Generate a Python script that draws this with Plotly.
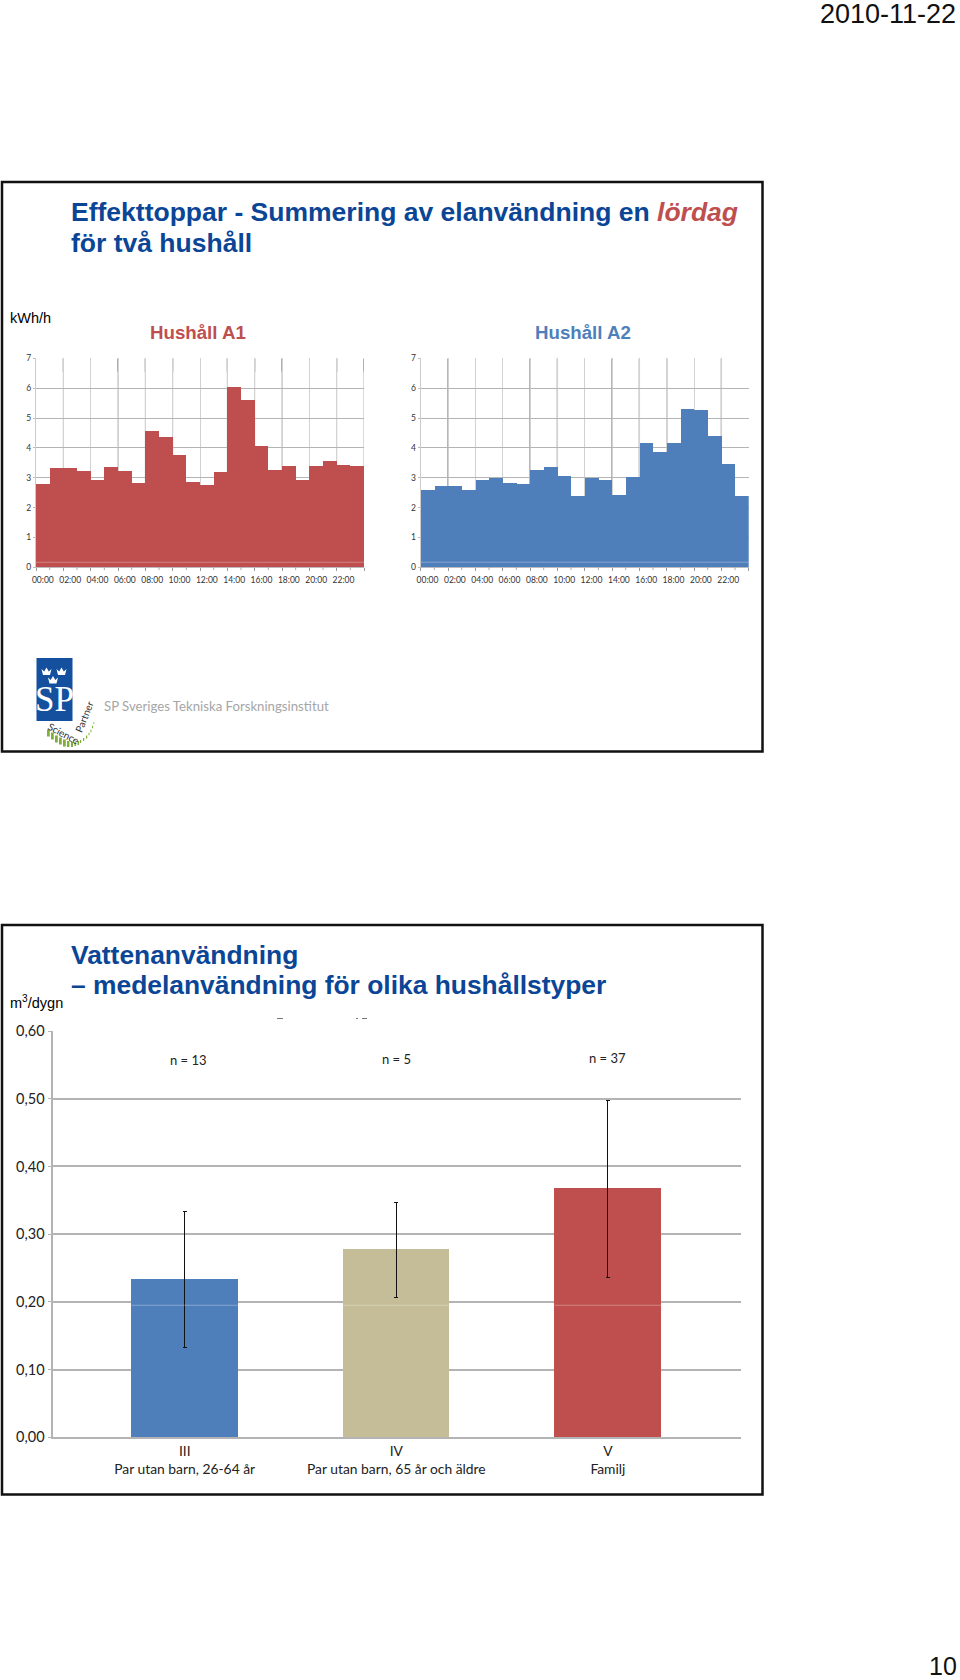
import plotly.graph_objects as go

W, H = 960, 1680
hours = [f"{h:02d}:00" for h in range(24)]
a1_values = [2.77, 3.33, 3.33, 3.22, 2.91, 3.36, 3.20, 2.83, 4.55, 4.36, 3.75, 2.85,
             2.73, 3.19, 6.04, 5.60, 4.05, 3.25, 3.39, 2.91, 3.39, 3.54, 3.42, 3.37]
a2_values = [2.57, 2.72, 2.71, 2.58, 2.92, 2.97, 2.81, 2.78, 3.25, 3.36, 3.06, 2.39,
             2.97, 2.92, 2.41, 3.02, 4.16, 3.84, 4.16, 5.30, 5.26, 4.40, 3.45, 2.39]
y_ticks_a = [0, 1, 2, 3, 4, 5, 6, 7]
dark_a1 = [1, 3, 4, 5, 7, 8, 9, 11, 12]
dark_a2 = [1, 4, 5, 7, 8, 9, 11]

water_cats = ["III<br>Par utan barn, 26-64 år",
              "IV<br>Par utan barn, 65 år och äldre",
              "V<br>Familj"]
water_values = [0.234, 0.278, 0.368]
water_err_up = [0.100, 0.069, 0.129]
water_err_down = [0.102, 0.071, 0.132]
water_n = ["n = 13", "n = 5", "n = 37"]
water_ticks = [0, 0.1, 0.2, 0.3, 0.4, 0.5, 0.6]
water_ticktext = ["0,00", "0,10", "0,20", "0,30", "0,40", "0,50", "0,60"]

RED, BLUE, KHAKI = "#BE4F4E", "#4F7FBB", "#C4BD97"
NAVY = "#0B4596"
GRID = "#B4B4B4"


def px(x):
    return x / W


def py(y):
    return 1 - y / H


fig = go.Figure()
fig.add_bar(x=hours, y=a1_values, marker=dict(color=RED, line_width=0), xaxis="x", yaxis="y", showlegend=False)
fig.add_bar(x=hours, y=a2_values, marker=dict(color=BLUE, line_width=0), xaxis="x2", yaxis="y2", showlegend=False)
fig.add_bar(x=water_cats, y=water_values, width=0.504,
            marker=dict(color=[BLUE, KHAKI, RED], line_width=0),
            error_y=dict(type="data", symmetric=False, array=water_err_up, arrayminus=water_err_down,
                         color="#111111", thickness=1, width=2),
            xaxis="x3", yaxis="y3", showlegend=False)


def hour_axis(domain, anchor):
    return dict(domain=domain, anchor=anchor, type="category", categoryorder="array", categoryarray=hours,
                range=[-0.5, 23.5], tickson="boundaries", dtick=2, showgrid=True, gridcolor="#D2D2D2",
                gridwidth=1, ticks="outside", ticklen=3, tickcolor="#999999", showline=True, linecolor="#BBBBBB",
                ticklabelstandoff=4,
                tickfont=dict(family="Lato", size=8.5, color="#333333"), tickangle=0)


def kwh_axis(domain, anchor):
    return dict(domain=domain, anchor=anchor, range=[0, 7], tickvals=y_ticks_a, showgrid=True,
                gridcolor=GRID, gridwidth=1, zeroline=False, ticks="outside", ticklen=2, tickcolor="#BBBBBB",
                showline=True, linecolor="#CCCCCC", tickfont=dict(family="Lato", size=8.5, color="#333333"))


shapes, ann = [], []
# darker segments of the vertical gridlines
for k in dark_a1:
    shapes.append(dict(type="line", xref="x", yref="y", x0=2 * k - 0.5, x1=2 * k - 0.5, y0=6.55, y1=7,
                       line=dict(color="#858585", width=1.3), layer="below"))
    shapes.append(dict(type="line", xref="x", yref="y", x0=2 * k - 0.5, x1=2 * k - 0.5, y0=0, y1=6.55,
                       line=dict(color="#B5B5B5", width=1), layer="below"))
for k in dark_a2:
    shapes.append(dict(type="line", xref="x2", yref="y2", x0=2 * k - 0.5, x1=2 * k - 0.5, y0=0, y1=7,
                       line=dict(color="#8A8A8A", width=1.3), layer="below"))
# hourly minor ticks and a faint light streak across the bars
for xr, yr in (("x", "y"), ("x2", "y2")):
    for k in range(1, 24, 2):
        shapes.append(dict(type="line", xref=xr, yref="paper", x0=k - 0.5, x1=k - 0.5, y0=py(567.3), y1=py(570),
                           line=dict(color="#AAAAAA", width=1)))
    shapes.append(dict(type="line", xref=xr, yref=yr, x0=-0.5, x1=23.5, y0=0.17, y1=0.17,
                       line=dict(color="rgba(255,255,255,0.3)", width=1), layer="above"))
for i in range(3):
    shapes.append(dict(type="line", xref="x3", yref="y3", x0=i - 0.252, x1=i + 0.252, y0=0.195, y1=0.195,
                       line=dict(color="rgba(255,255,255,0.3)", width=1), layer="above"))


def rect(x0, y0, x1, y1, **kw):
    shapes.append(dict(type="rect", xref="paper", yref="paper", x0=px(x0), x1=px(x1), y0=py(y1), y1=py(y0), **kw))


def text(x, y, s, size, color="#000000", family="Liberation Sans", anchor="left", angle=0):
    ann.append(dict(xref="paper", yref="paper", x=px(x), y=py(y), text=s, showarrow=False, xanchor=anchor,
                    yanchor="middle", textangle=angle, align="left", borderpad=0,
                    font=dict(family=family, size=size, color=color)))


def crown(a, b):
    pts = [(a, b), (a + 1.5, b + 6), (a + 8.5, b + 6), (a + 10, b), (a + 7.3, b + 2.5), (a + 5, b - 1.5), (a + 2.7, b + 2.5)]
    path = "M " + " L ".join(f"{px(u):.5f} {py(v):.5f}" for u, v in pts) + " Z"
    shapes.append(dict(type="path", xref="paper", yref="paper", layer="above", line_width=0,
                       fillcolor="#FFFFFF", path=path))


# frames
for y0, y1 in ((182, 751.5), (925, 1494.5)):
    rect(2, y0, 762.5, y1, line=dict(color="#111111", width=2.5), fillcolor="rgba(0,0,0,0)", layer="below")

text(957, 14, "2010-11-22", 27, anchor="right", color="#111111")
text(70, 212, f'<b>Effekttoppar - Summering av elanvändning en <span style="color:{RED}"><i>lördag</i></span></b>', 26.5, NAVY)
text(70, 243, "<b>för två hushåll</b>", 26.5, NAVY)
text(9, 318, "kWh/h", 14.5)
text(198, 333, "<b>Hushåll A1</b>", 18.7, RED, anchor="center")
text(583, 333, "<b>Hushåll A2</b>", 18.7, BLUE, anchor="center")
text(70, 955, "<b>Vattenanvändning</b>", 26.4, NAVY)
text(70, 985, "<b>– medelanvändning för olika hushållstyper</b>", 26.4, NAVY)
text(9, 1002, "m<sup>3</sup>/dygn", 14.5)
for s, x, y in zip(water_n, (188.5, 396, 607), (1060, 1059, 1058)):
    text(x, y, s, 13, "#222222", family="Lato", anchor="center")
text(943, 1666, "10", 25, "#111111", anchor="center")

# remnants of hidden text
for x0, x1 in ((277, 283), (356, 358), (362, 367)):
    rect(x0, 1018, x1, 1019, fillcolor="#777777", line_width=0)

# logo
rect(36.5, 658, 72.5, 721, fillcolor="#14509E", line_width=0)
text(54.5, 699, "SP", 35, "#FFFFFF", family="Liberation Serif", anchor="center")
crown(41.5, 669)
crown(56.5, 669)
crown(48, 677.5)
text(103, 706, "SP Sveriges Tekniska Forskningsinstitut", 13.2, "#A6A6A6", family="Lato")
text(63, 733, "Science", 10, "#333333", family="Lato", anchor="center", angle=28)
text(84, 717, "Partner", 10, "#333333", family="Lato", anchor="center", angle=-68)
for x, y, w in ((47, 733, 3.5), (51, 736, 3.5), (55, 739, 3.5), (59, 741, 3.5), (63, 743, 3.5), (67, 744, 3),
                (71, 744.5, 2.5), (74.5, 744, 2), (77.5, 743, 2), (80, 741.5, 1.5), (83, 739.5, 1.5), (86, 737, 1.5),
                (88.5, 734, 1.2), (90.5, 731, 1.2), (92, 727, 1.2), (93.5, 723, 1)):
    rect(x, y - w, x + w * 0.8, y + w, fillcolor="#7FAF3A", line_width=0)

fig.update_layout(
    width=W, height=H, margin=dict(l=0, r=0, t=0, b=0, autoexpand=False),
    paper_bgcolor="#FFFFFF", plot_bgcolor="rgba(0,0,0,0)", bargap=0, shapes=shapes, annotations=ann,
    xaxis=hour_axis([px(36), px(364)], "y"),
    yaxis=kwh_axis([py(567.3), py(358.3)], "x"),
    xaxis2=hour_axis([px(420.7), px(748.7)], "y2"),
    yaxis2=kwh_axis([py(567.3), py(358.3)], "x2"),
    xaxis3=dict(domain=[px(53.3), px(741)], anchor="y3", type="category", range=[-0.621, 2.629],
                showline=True, linecolor=GRID, linewidth=1.5, ticks="", showgrid=False,
                tickfont=dict(family="Lato", size=13.85, color="#222222"), tickangle=0),
    yaxis3=dict(domain=[py(1437.3), py(1031)], anchor="x3", range=[0, 0.6], tickvals=water_ticks,
                ticktext=water_ticktext, showgrid=True, gridcolor=GRID, gridwidth=1.5, zeroline=False,
                ticks="outside", ticklen=4, tickcolor=GRID, showline=True, linecolor=GRID, linewidth=1.5,
                tickfont=dict(family="Lato", size=14.5, color="#222222")),
)

fig.write_html("out.html", config=dict(displayModeBar=False),
               post_script="document.body.style.margin='0';document.body.style.overflow='hidden';")
